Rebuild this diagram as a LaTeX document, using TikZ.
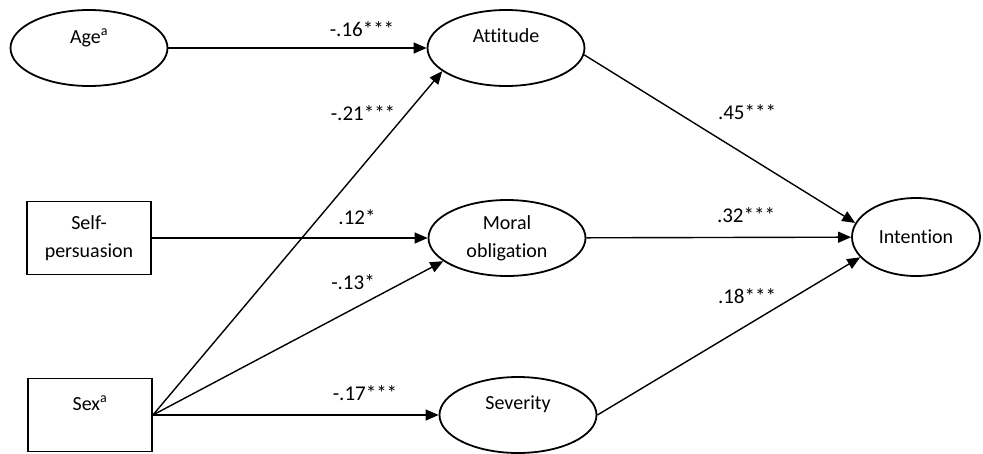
\documentclass[tikz,border=0pt]{standalone}
\usepackage{fontspec}
\setmainfont{Carlito}[Ligatures=NoCommon]
\usetikzlibrary{shapes.geometric,arrows.meta}
\begin{document}
\begin{tikzpicture}[x=1pt,y=-1pt,
  ell/.style={draw, ellipse, line width=1.8pt, minimum width=157pt, minimum height=76pt, inner sep=0pt, align=center, font=\fontsize{20}{28}\selectfont},
  box/.style={draw, rectangle, line width=1.8pt, minimum width=124pt, minimum height=73pt, inner sep=0pt, align=center, font=\fontsize{20}{28}\selectfont},
  conn/.style={line width=1.4pt, -{Triangle[length=13pt,width=11pt]}},
  coef/.style={font=\fontsize{21}{25}\selectfont, inner sep=0pt}]
\useasboundingbox (0,0) rectangle (983,453);
% nodes
\node[ell] (age) at (89,48) {Age\textsuperscript{a}\\[-4pt]\mbox{}};
\node[ell] (att) at (506,48) {Attitude\\[-4pt]\mbox{}};
\node[box] (self) at (89,238) {Self-\\persuasion};
\node[ell] (mor) at (507,238) {Moral\\obligation};
\node[box] (sex) at (90,415) {Sex\textsuperscript{a}\\[-4pt]\mbox{}};
\node[ell] (sev) at (518,415) {Severity\\[-4pt]\mbox{}};
\node[ell, minimum width=128pt, minimum height=78pt] (int) at (916,237) {Intention};
% connectors
\draw[conn] (age) -- (att);
\draw[conn] (self) -- (mor);
\draw[conn] (sex.east) -- (att.200);
\draw[conn] (sex.east) -- (mor.200);
\draw[conn] (sex) -- (sev);
\draw[conn] (att.355) -- (int.167);
\draw[conn] (mor) -- (int);
\draw[conn] (sev.east) -- (int.200);
% coefficients
\node[coef] (c1) at (362,29) {-.16***};
\node[coef] (c2) at (363,113) {-.21***};
\node[coef] (c3) at (357,217) {.12*};
\node[coef] (c4) at (353,282) {-.13*};
\node[coef] (c5) at (365,393) {-.17***};
\node[coef] (c6) at (747,112) {.45***};
\node[coef] (c7) at (746,215) {.32***};
\node[coef] (c8) at (747,296) {.18***};
\end{tikzpicture}
\end{document}
